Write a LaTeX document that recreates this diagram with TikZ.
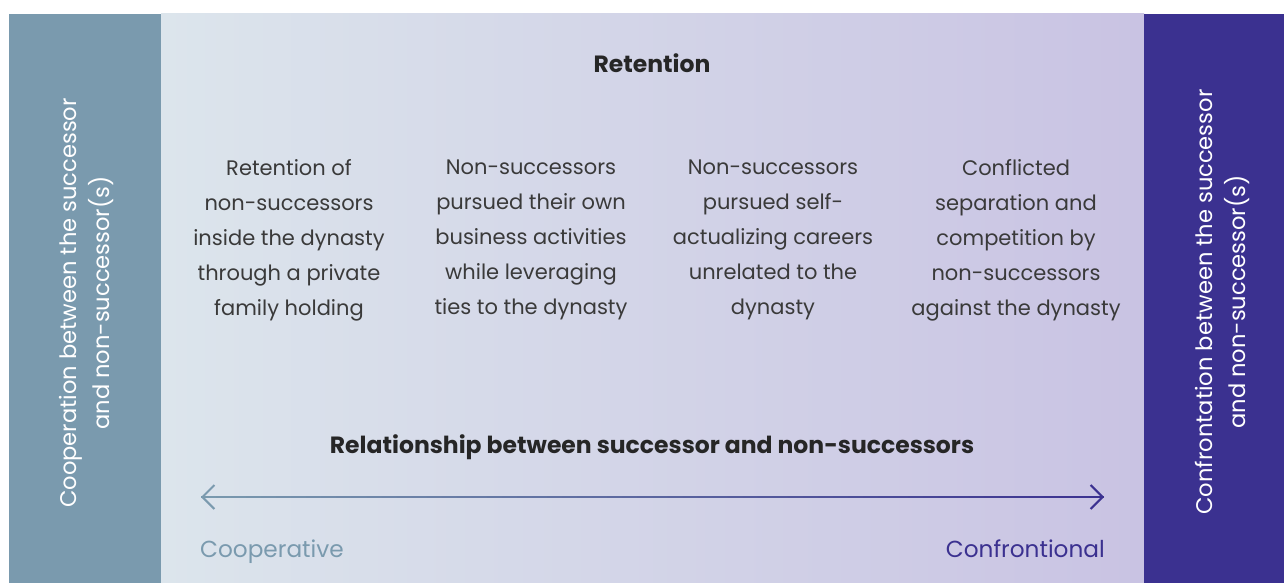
\documentclass[tikz,border=0pt]{standalone}
\usepackage{fontspec}
\setmainfont{Poppins}
\usetikzlibrary{arrows.meta,calc}

\definecolor{coopcol}{HTML}{7A9AAE}
\definecolor{confcol}{HTML}{3B3190}
\definecolor{bgleft}{HTML}{DCE5EC}
\definecolor{bgright}{HTML}{C9C3E3}
\definecolor{bodytext}{HTML}{3A3A3A}

\tikzset{
  desc/.style={align=center, text=bodytext, font=\fontsize{21}{35}\selectfont},
  heading/.style={text=black!85, font=\fontsize{23.5}{28}\selectfont\bfseries},
  sidetext/.style={rotate=90, align=center, text=white, font=\fontsize{22.6}{33}\selectfont},
  endlabel/.style={font=\fontsize{23.2}{28}\selectfont},
  barb/.style={line width=2pt, line cap=round}
}

\begin{document}
\begin{tikzpicture}[x=1pt, y=-1pt]
  \useasboundingbox (0,0) rectangle (1284,583);

  % background panels
  \shade[left color=bgleft, right color=bgright] (161,14) rectangle (1144,583);
  \fill[coopcol] (9,14) rectangle (161,583);
  \fill[confcol] (1144,14) rectangle (1284,583);

  % side labels
  \node[sidetext] (coop) at (87,303) {Cooperation between the successor\\and non-successor(s)};
  \node[sidetext] (conf) at (1222,302) {Confrontation between the successor\\and non-successor(s)};

  \node[heading, anchor=base] (title) at (652,73) {Retention};

  % the four forms of retention
  \node[desc] (form1) at (289,240) {Retention of\\non-successors\\inside the dynasty\\through a private\\family holding};
  \node[desc] (form2) at (531,240) {Non-successors\\pursued their own\\business activities\\while leveraging\\ties to the dynasty};
  \node[desc] (form3) at (773,240) {Non-successors\\pursued self-\\actualizing careers\\unrelated to the\\dynasty};
  \node[desc] (form4) at (1016,240) {Conflicted\\separation and\\competition by\\non-successors\\against the dynasty};

  \node[heading, anchor=base] (axis) at (652,453) {Relationship between successor and non-successors};

  % scale arrow, fading from one end colour to the other
  \coordinate (left) at (201,497);
  \coordinate (right) at (1104,497);
  \foreach \i in {1,...,60} {
    \pgfmathsetmacro\p{100-(\i-0.5)*100/60}
    \draw[line width=2pt, coopcol!\p!confcol] ($(left)!{(\i-1)/60}!(right)$) -- ($(left)!{\i/60}!(right)$);
  }
  \draw[barb, coopcol, {Straight Barb[length=12pt,width=24pt]}-] (left) -- ($(left)!0.01!(right)$);
  \draw[barb, confcol, -{Straight Barb[length=12pt,width=24pt]}] ($(left)!0.99!(right)$) -- (right);

  \node[endlabel, text=coopcol, anchor=base west, inner sep=0pt] (coopend) at (200,557) {Cooperative};
  \node[endlabel, text=confcol, anchor=base east, inner sep=0pt] (confend) at (1105,557) {Confrontional};
\end{tikzpicture}
\end{document}
